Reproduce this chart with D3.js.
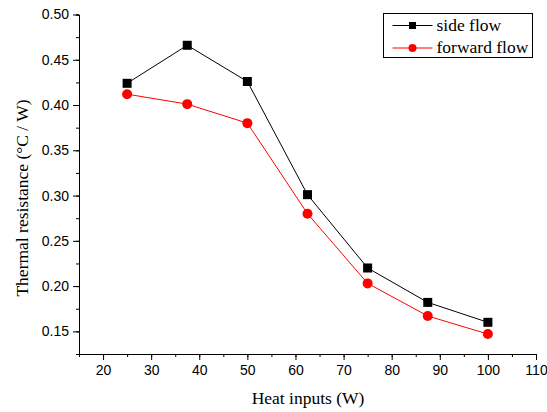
<!DOCTYPE html>
<html>
<head>
<meta charset="utf-8">
<script src="https://cdn.jsdelivr.net/npm/d3@7"></script>
<style>
  body { margin: 0; background: #fff; }
  .tick text { font-family: "Liberation Sans", Arial, sans-serif; font-size: 14px; fill: #000; }
  .axis path, .axis line { stroke: #000; stroke-width: 1; }
  .lbl { font-family: "Liberation Serif", "Times New Roman", serif; font-size: 17.5px; fill: #000; }
</style>
</head>
<body>
<svg id="chart" width="547" height="412"></svg>
<script>
// heat inputs (W)
var heatInputs = [25, 37.5, 50, 62.5, 75, 87.5, 100];
// thermal resistance (°C / W)
var sideFlow = [0.424, 0.466, 0.426, 0.301, 0.220, 0.182, 0.160];
var forwardFlow = [0.412, 0.401, 0.380, 0.280, 0.203, 0.167, 0.147];
var xTicks = [20, 30, 40, 50, 60, 70, 80, 90, 100, 110];
var yTicks = [0.15, 0.20, 0.25, 0.30, 0.35, 0.40, 0.45, 0.50];
var seriesNames = ["side flow", "forward flow"];

var svg = d3.select("#chart");
var plot = {left: 79, right: 536, top: 14.5, bottom: 354};

var x = d3.scaleLinear().domain([15, 110]).range([plot.left, plot.right]);
var y = d3.scaleLinear().domain([0.125, 0.50]).range([plot.bottom, plot.top]);

// minor ticks first
svg.append("g")
  .attr("class", "axis")
  .attr("transform", "translate(0," + plot.bottom + ")")
  .call(d3.axisBottom(x).tickValues(d3.range(15, 111, 5)).tickSize(3).tickFormat(""));
svg.append("g")
  .attr("class", "axis")
  .attr("transform", "translate(" + plot.left + ",0)")
  .call(d3.axisLeft(y).tickValues(d3.range(0.125, 0.501, 0.025)).tickSize(3).tickFormat(""));

// major ticks
svg.append("g")
  .attr("class", "axis")
  .attr("transform", "translate(0," + plot.bottom + ")")
  .call(d3.axisBottom(x).tickValues(xTicks).tickSize(6).tickSizeOuter(0).tickPadding(5).tickFormat(d3.format("d")));
svg.append("g")
  .attr("class", "axis")
  .attr("transform", "translate(" + plot.left + ",0)")
  .call(d3.axisLeft(y).tickValues(yTicks).tickSize(6).tickSizeOuter(0).tickPadding(4).tickFormat(d3.format(".2f")));

var line = d3.line()
  .x(function(d, i){ return x(heatInputs[i]); })
  .y(function(d){ return y(d); });

// side flow
svg.append("path")
  .datum(sideFlow)
  .attr("fill", "none")
  .attr("stroke", "#000")
  .attr("stroke-width", 1)
  .attr("d", line);
svg.selectAll("rect.side")
  .data(sideFlow)
  .enter().append("rect")
  .attr("class", "side")
  .attr("x", function(d, i){ return x(heatInputs[i]) - 4.5; })
  .attr("y", function(d){ return y(d) - 4.5; })
  .attr("width", 9)
  .attr("height", 9)
  .attr("fill", "#000");

// forward flow
svg.append("path")
  .datum(forwardFlow)
  .attr("fill", "none")
  .attr("stroke", "#ff0000")
  .attr("stroke-width", 1)
  .attr("d", line);
svg.selectAll("circle.fwd")
  .data(forwardFlow)
  .enter().append("circle")
  .attr("class", "fwd")
  .attr("cx", function(d, i){ return x(heatInputs[i]); })
  .attr("cy", function(d){ return y(d); })
  .attr("r", 5)
  .attr("fill", "#ff0000");

// axis titles
svg.append("text")
  .attr("class", "lbl")
  .attr("x", 308)
  .attr("y", 404)
  .attr("text-anchor", "middle")
  .text("Heat inputs (W)");
svg.append("text")
  .attr("class", "lbl")
  .attr("transform", "translate(28,198) rotate(-90)")
  .attr("text-anchor", "middle")
  .text("Thermal resistance (\u00B0C / W)");

// legend
var lg = svg.append("g").attr("transform", "translate(383.5,13.5)");
lg.append("rect")
  .attr("width", 149)
  .attr("height", 44)
  .attr("fill", "#fff")
  .attr("stroke", "#000")
  .attr("stroke-width", 1);
var rows = [{c: "#000", shape: "square"}, {c: "#ff0000", shape: "circle"}];
rows.forEach(function(r, i){
  var cy = 12 + i * 22.5;
  lg.append("line")
    .attr("x1", 9).attr("x2", 49)
    .attr("y1", cy).attr("y2", cy)
    .attr("stroke", r.c).attr("stroke-width", 1);
  if (r.shape === "square") {
    lg.append("rect").attr("x", 29 - 3.5).attr("y", cy - 3.5).attr("width", 7).attr("height", 7).attr("fill", r.c);
  } else {
    lg.append("circle").attr("cx", 29).attr("cy", cy).attr("r", 4).attr("fill", r.c);
  }
  lg.append("text")
    .attr("class", "lbl")
    .attr("x", 53)
    .attr("y", cy + 5)
    .text(seriesNames[i]);
});
</script>
</body>
</html>
